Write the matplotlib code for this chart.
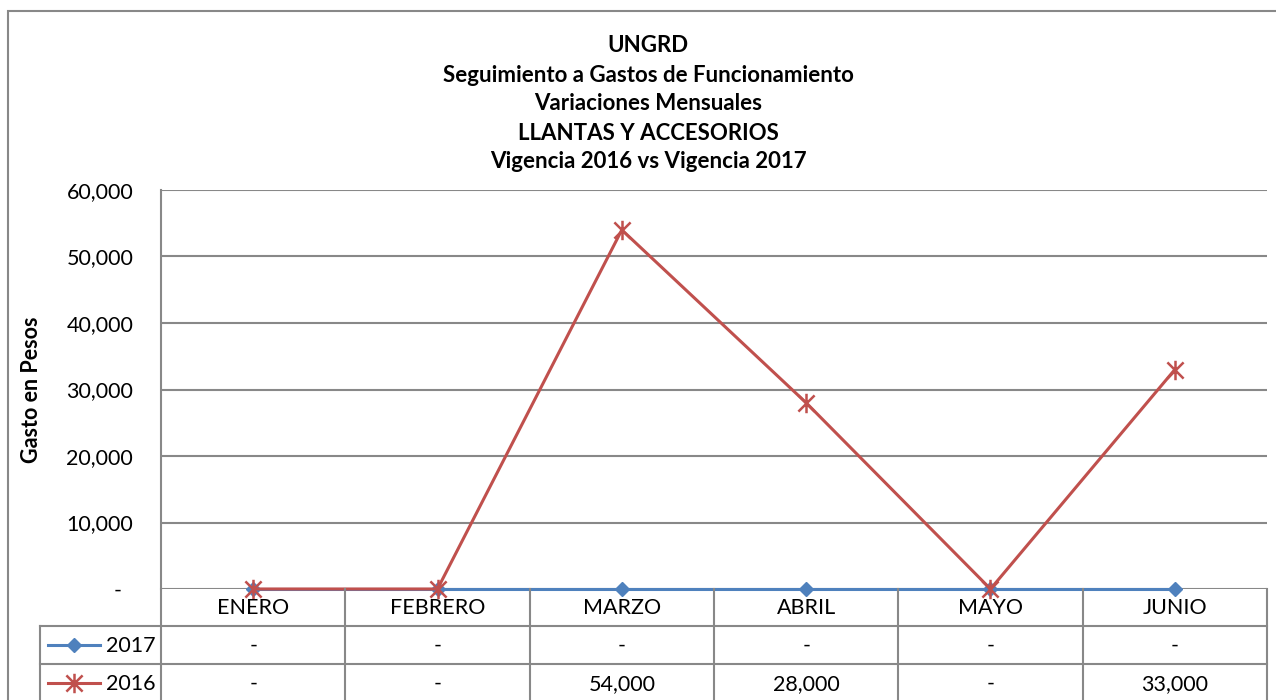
import matplotlib
matplotlib.use("Agg")
import matplotlib.pyplot as plt
from matplotlib.path import Path
from matplotlib.lines import Line2D
from matplotlib.patches import Rectangle
from matplotlib.transforms import blended_transform_factory

months = ["ENERO", "FEBRERO", "MARZO", "ABRIL", "MAYO", "JUNIO"]
values_2017 = [0, 0, 0, 0, 0, 0]
values_2016 = [0, 0, 54000, 28000, 0, 33000]
yticks = [0, 10000, 20000, 30000, 40000, 50000, 60000]
title_lines = ["UNGRD", "Seguimiento a Gastos de Funcionamiento", "Variaciones Mensuales",
               "LLANTAS Y ACCESORIOS", "Vigencia 2016 vs Vigencia 2017"]

FONT = ["Lato", "DejaVu Sans"]
plt.rcParams['font.family'] = FONT
FS = 15.5
TFS = 16

W, H = 1276, 700
fig = plt.figure(figsize=(W / 100, H / 100), dpi=100)
GRAY = "#888888"
BLUE = "#4F81BD"
RED = "#C0504D"

def fx(px):
    return px / W

def fy(py):
    return 1 - py / H

# outer chart border
fig.patches.append(Rectangle((fx(8), fy(760)), fx(1300), fy(11) - fy(760), transform=fig.transFigure,
                             fill=False, edgecolor=GRAY, linewidth=1.5))

L, R, T, B = 161, 1267, 190, 589
ax = fig.add_axes([fx(L), fy(B), fx(R - L), fy(T) - fy(B)])
ax.set_xlim(-0.5, len(months) - 0.5)
ax.set_ylim(0, 60000)
for s in ["top", "right", "bottom"]:
    ax.spines[s].set_visible(False)
ax.spines["left"].set_color(GRAY)
ax.spines["left"].set_linewidth(1.5)
ax.set_yticks(yticks)
ax.yaxis.grid(True, color=GRAY, linewidth=1.5)
ax.set_axisbelow(True)
ax.tick_params(axis="y", length=0, pad=20, labelsize=FS)
ax.set_yticklabels(["-  " if v == 0 else f"{v:,.0f}" for v in yticks])
ax.set_xticks([])

# asterisk marker
star = Path([(-1, -1), (1, 1), (-1, 1), (1, -1), (0, -1.2), (0, 1.2)],
            [Path.MOVETO, Path.LINETO, Path.MOVETO, Path.LINETO, Path.MOVETO, Path.LINETO])

x = list(range(len(months)))
ax.plot(x, values_2017, color=BLUE, linewidth=2.2, marker="D", markersize=7,
        markerfacecolor=BLUE, markeredgecolor=BLUE, clip_on=False, zorder=3)
ax.plot(x, values_2016, color=RED, linewidth=2.2, marker=star, markersize=14,
        markerfacecolor="none", markeredgecolor=RED, markeredgewidth=1.8, clip_on=False, zorder=4)

ax.set_ylabel("Gasto en Pesos", fontsize=FS, fontweight="bold", labelpad=0)
ax.yaxis.set_label_coords(fx(42 - L) / fx(R - L), 0.5)

# title
tys = [45, 75, 104, 133, 162]
for t, ty in zip(title_lines, tys):
    fig.text(fx(648), fy(ty), t, ha="center", va="center", fontsize=TFS, fontweight="bold")

# data table
tr = blended_transform_factory(ax.transData, fig.transFigure)
rows_y = [589, 626, 664, 702, 740]
xb = [i - 0.5 for i in range(len(months) + 1)]
for yy in rows_y[1:4]:
    fig.add_artist(Line2D([fx(40), fx(R)], [fy(yy), fy(yy)], transform=fig.transFigure,
                          color=GRAY, linewidth=1.5))
fig.add_artist(Line2D([fx(R), fx(R)], [fy(589), fy(740)], transform=fig.transFigure,
                      color=GRAY, linewidth=1.5))
for xv in xb[1:-1]:
    fig.add_artist(Line2D([xv, xv], [fy(589), fy(740)], transform=tr, color=GRAY, linewidth=1.5))
fig.add_artist(Line2D([fx(L), fx(L)], [fy(589), fy(740)], transform=fig.transFigure,
                      color=GRAY, linewidth=1.5))
fig.add_artist(Line2D([fx(40), fx(40)], [fy(626), fy(740)], transform=fig.transFigure,
                      color=GRAY, linewidth=1.5))

def fmt(v):
    return "-" if v == 0 else f"{v:,.0f}"

for i, m in enumerate(months):
    fig.text(i, fy(608), m, transform=tr, ha="center", va="center", fontsize=FS)
    fig.text(i, fy(646), fmt(values_2017[i]), transform=tr, ha="center", va="center", fontsize=FS)
    fig.text(i, fy(684), fmt(values_2016[i]), transform=tr, ha="center", va="center", fontsize=FS)

# legend keys
fig.add_artist(Line2D([fx(48), fx(100)], [fy(645), fy(645)], transform=fig.transFigure,
                      color=BLUE, linewidth=2.2))
fig.add_artist(Line2D([fx(74)], [fy(645)], transform=fig.transFigure, color=BLUE,
                      marker="D", markersize=7, markerfacecolor=BLUE, markeredgecolor=BLUE))
fig.add_artist(Line2D([fx(48), fx(100)], [fy(683), fy(683)], transform=fig.transFigure,
                      color=RED, linewidth=2.2))
fig.add_artist(Line2D([fx(74)], [fy(683)], transform=fig.transFigure, color=RED,
                      marker=star, markersize=14, markerfacecolor="none", markeredgecolor=RED,
                      markeredgewidth=1.8))
fig.text(fx(106), fy(646), "2017", ha="left", va="center", fontsize=FS)
fig.text(fx(106), fy(684), "2016", ha="left", va="center", fontsize=FS)

fig.savefig("out.png", dpi=100)
